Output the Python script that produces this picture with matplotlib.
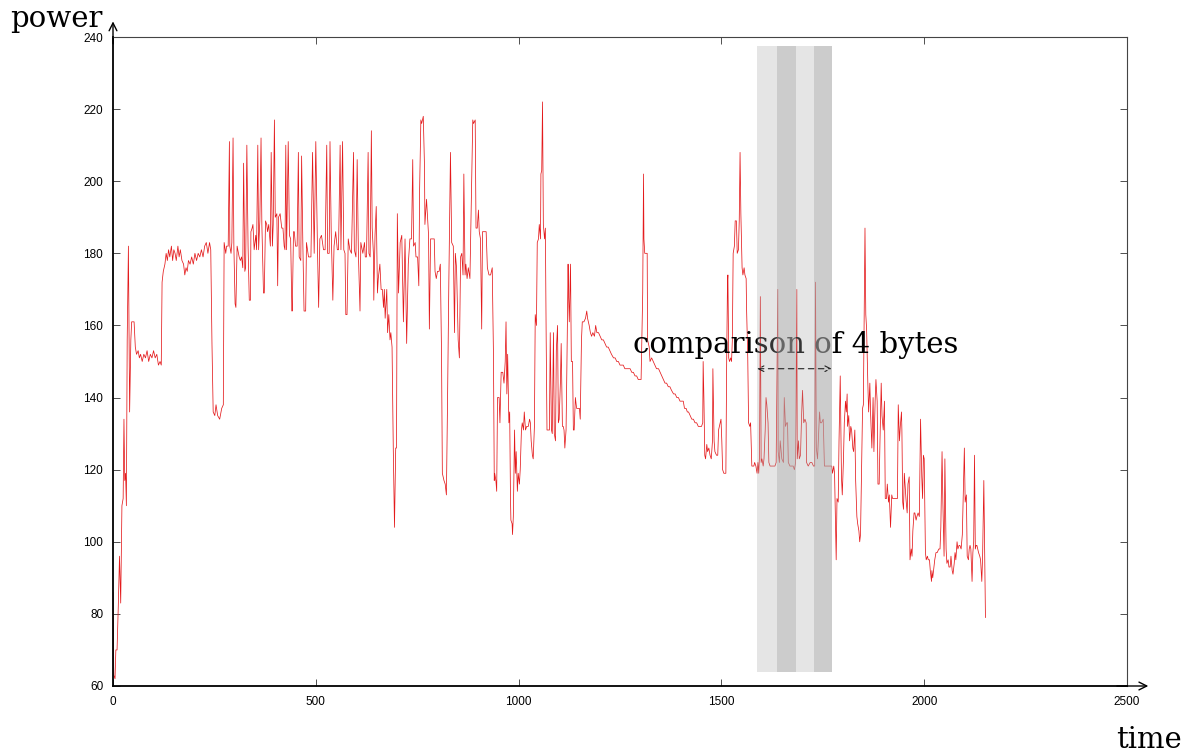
import matplotlib
matplotlib.use('Agg')
import matplotlib.pyplot as plt

# power trace (time, power)
time = [0, 2, 5, 7, 10, 13, 16, 19, 22, 25,
        27, 29, 31, 33, 35, 38, 41, 44, 46, 52,
        55, 58, 62, 65, 68, 72, 76, 80, 84, 88,
        92, 96, 100, 104, 108, 112, 116, 119, 121, 124,
        128, 131, 134, 137, 140, 144, 147, 150, 153, 156,
        160, 163, 166, 170, 174, 177, 180, 183, 186, 190,
        194, 198, 202, 206, 210, 214, 218, 222, 226, 230,
        234, 238, 241,
        244, 247, 251, 254, 258, 263, 268, 272, 274, 278,
        280, 284, 287, 288, 291, 293, 296, 298, 301, 303,
        306, 311, 314, 317, 320, 322, 325, 327, 330, 333,
        336, 339, 340, 343, 345, 348, 352, 354, 357, 359,
        362, 365, 367, 371, 373, 376, 379, 381, 384, 388,
        390, 393, 395, 398, 400, 404, 406, 408, 412, 416,
        419, 422, 424, 426, 428, 432, 435, 438, 441, 442,
        445, 447, 450, 454, 457, 459, 463, 465, 468, 471,
        475, 477, 482, 488, 492, 496, 500, 504, 507, 510,
        514, 519, 523, 527, 529, 533, 535, 538, 542, 545,
        549, 553, 556, 560, 562, 566, 569, 572, 574, 577,
        580, 584, 588, 593, 595, 599, 602, 605, 609, 611,
        616, 620, 622, 625, 629, 631, 634, 637, 639, 642,
        643, 646, 649, 652, 654, 658, 661, 664, 667, 669,
        671, 675, 677, 680, 683, 685, 688, 691, 694, 697,
        699, 701, 704,
        708, 712, 716, 720, 724, 728, 732, 736, 739, 741,
        745, 747, 751, 754, 756, 759, 761, 765, 768, 769,
        773, 778, 780, 783, 787, 792, 794, 797, 800, 804,
        807, 810, 812, 816, 819, 822, 825, 828, 832, 835,
        839, 842, 844, 847, 851, 854, 857, 860, 863, 865,
        868, 870, 873, 876, 880, 884, 887, 889, 893, 895,
        898, 901, 903, 906, 909, 911, 916, 920, 923, 927,
        931, 935, 938, 940,
        941, 944, 946, 948, 952, 954, 957, 961, 964, 967,
        969, 971, 973, 976, 978, 980, 981, 984, 985, 987,
        990, 992, 994, 997, 999, 1002, 1004, 1007, 1009, 1012,
        1014, 1017, 1020, 1024, 1027, 1029, 1031, 1034, 1036, 1039,
        1041, 1044, 1046, 1049, 1051, 1054, 1055, 1057, 1059, 1061,
        1064, 1066, 1068, 1070, 1073, 1076, 1078, 1081, 1083, 1086,
        1088, 1091, 1093, 1096, 1098, 1100, 1103, 1105, 1108, 1110,
        1112, 1114, 1117, 1119, 1122, 1123, 1125, 1128, 1130, 1133,
        1135, 1137, 1140, 1143, 1147, 1150, 1152, 1155, 1157, 1161,
        1165, 1168, 1170, 1174,
        1177, 1180, 1183, 1187, 1190, 1193, 1197, 1201, 1205, 1209,
        1213, 1217, 1221, 1225, 1229, 1234, 1238, 1242, 1246, 1250,
        1254, 1258, 1262, 1266, 1271, 1275, 1279, 1283, 1287, 1291,
        1295, 1299, 1302, 1303, 1306, 1308, 1309, 1311, 1313, 1317,
        1318, 1322, 1324, 1328, 1332, 1336, 1340, 1345, 1349, 1353,
        1357, 1361, 1365, 1369, 1373, 1377, 1382, 1386, 1390, 1394,
        1398,
        1402, 1406, 1409, 1413, 1416, 1419, 1423, 1427, 1431, 1435,
        1439, 1443, 1447, 1451, 1454, 1455, 1457, 1459, 1461, 1464,
        1466, 1469, 1472, 1475, 1478, 1479, 1482, 1484, 1488, 1491,
        1493, 1497, 1499, 1501, 1503, 1506, 1510, 1511, 1513, 1515,
        1516, 1518, 1520, 1523, 1525, 1527, 1529, 1532, 1534, 1537,
        1539, 1542, 1544, 1546, 1548, 1551, 1553, 1556, 1558, 1561,
        1562, 1565, 1567, 1570, 1572, 1575, 1577, 1580, 1582, 1585,
        1588, 1590, 1592, 1594, 1596, 1598, 1600, 1603, 1605, 1608,
        1610, 1612, 1615, 1617, 1620, 1624, 1628, 1632,
        1635, 1639, 1640, 1643, 1645, 1649, 1653, 1655, 1658, 1661,
        1663, 1665, 1669, 1673, 1677, 1680, 1683, 1686, 1687, 1690,
        1692, 1695, 1698, 1700, 1703, 1706, 1709, 1710, 1714, 1719,
        1723, 1727, 1730, 1732, 1734, 1737, 1739, 1742, 1744, 1747,
        1751, 1754, 1760, 1764, 1768, 1772, 1774, 1777, 1779, 1781,
        1783, 1785, 1788, 1790, 1793, 1796, 1798, 1801, 1803, 1806,
        1808, 1810, 1811, 1814, 1816, 1819, 1821, 1824, 1826, 1829,
        1831, 1834, 1836, 1839, 1841, 1843, 1846, 1848, 1850, 1852,
        1854, 1856, 1858, 1861, 1863, 1866, 1868,
        1871, 1874, 1876, 1879, 1881, 1884, 1886, 1889, 1891, 1894,
        1896, 1899, 1902, 1904, 1907, 1909, 1912, 1914, 1917, 1920,
        1922, 1926, 1928, 1931, 1934, 1936, 1939, 1941, 1944, 1945,
        1947, 1949, 1951, 1954, 1955, 1958, 1960, 1963, 1965, 1968,
        1970, 1972, 1975, 1977, 1980, 1982, 1985, 1988, 1991, 1994,
        1996, 1998, 2000, 2003, 2005, 2008, 2010, 2013, 2015, 2018,
        2019, 2021, 2023, 2026, 2029, 2032, 2036, 2039, 2041, 2044,
        2046, 2049, 2051, 2054, 2056, 2059, 2061, 2064, 2066, 2069,
        2071, 2074, 2076, 2078, 2081, 2083, 2086, 2088, 2091, 2094,
        2097, 2099, 2101, 2104, 2106, 2109, 2111, 2113, 2115, 2118,
        2120, 2122, 2124, 2126, 2128, 2130, 2134, 2137, 2139, 2142,
        2144, 2147, 2148, 2151]

power = [86, 63, 62, 70, 70, 82, 96, 83, 110, 112,
         134, 117, 119, 110, 156, 182, 136, 156, 161, 161,
         154, 152, 153, 151, 152, 150, 152, 151, 153, 150,
         152, 151, 153, 151, 152, 149, 150, 149, 172, 175,
         177, 180, 178, 181, 179, 182, 178, 181, 180, 178,
         182, 179, 181, 178, 177, 174, 176, 175, 178, 177,
         179, 177, 180, 178, 180, 179, 181, 179, 182, 183,
         180, 183, 181,
         155, 136, 135, 138, 135, 134, 137, 138, 183, 180,
         182, 182, 211, 182, 180, 183, 212, 182, 166, 165,
         182, 179, 178, 179, 176, 205, 175, 176, 210, 182,
         167, 167, 186, 187, 188, 181, 185, 181, 210, 181,
         189, 212, 188, 169, 169, 189, 188, 186, 188, 182,
         208, 182, 188, 217, 190, 191, 171, 190, 191, 187,
         187, 182, 181, 210, 181, 211, 185, 184, 164, 164,
         186, 186, 182, 182, 208, 179, 178, 207, 183, 164,
         164, 183, 179, 179, 208, 180, 211, 182, 165, 184,
         185, 181, 181, 210, 180, 180, 211, 186, 167, 182,
         186, 181, 181, 210, 181, 211, 181, 180, 163, 163,
         184, 181, 180, 208, 181, 179, 206, 180, 164, 183,
         180, 183, 179, 179, 208, 180, 179, 214, 187, 180,
         167, 185, 193, 169, 173, 177, 170, 170, 165, 170,
         162, 170, 158, 163, 156, 158, 154, 126, 104, 126,
         126, 191, 169,
         183, 185, 161, 184, 155, 177, 184, 184, 206, 182,
         183, 179, 179, 171, 198, 217, 216, 218, 204, 188,
         195, 185, 159, 184, 184, 184, 175, 173, 175, 175,
         177, 152, 119, 117, 116, 113, 141, 172, 208, 183,
         182, 158, 180, 176, 156, 151, 179, 180, 174, 202,
         174, 177, 173, 176, 173, 198, 217, 216, 217, 187,
         187, 192, 186, 184, 159, 186, 186, 186, 176, 174,
         174, 176, 152, 117,
         119, 117, 114, 140, 140, 133, 147, 147, 144, 150,
         161, 141, 152, 133, 136, 112, 106, 105, 102, 107,
         131, 119, 125, 114, 119, 116, 120, 131, 133, 131,
         136, 131, 132, 132, 134, 133, 128, 124, 123, 132,
         163, 160, 183, 184, 188, 184, 202, 203, 222, 188,
         184, 187, 156, 131, 131, 131, 158, 131, 130, 158,
         130, 128, 153, 160, 133, 134, 144, 155, 132, 132,
         131, 126, 131, 148, 177, 169, 161, 177, 150, 150,
         131, 131, 140, 137, 137, 137, 134, 156, 161, 161,
         162, 164, 162, 160,
         158, 157, 158, 157, 160, 158, 158, 157, 156, 156,
         155, 154, 154, 153, 152, 151, 151, 150, 150, 149,
         149, 149, 148, 148, 148, 148, 147, 147, 146, 146,
         145, 145, 145, 151, 169, 202, 184, 180, 180, 180,
         156, 154, 150, 151, 150, 149, 148, 148, 147, 146,
         145, 144, 144, 143, 143, 142, 141, 141, 140, 140,
         139,
         139, 139, 137, 137, 136, 136, 135, 134, 134, 133,
         133, 132, 132, 132, 133, 150, 139, 124, 123, 127,
         125, 126, 124, 123, 128, 148, 128, 125, 124, 124,
         131, 133, 134, 128, 120, 119, 119, 119, 150, 172,
         174, 151, 150, 151, 150, 156, 180, 182, 189, 189,
         180, 181, 189, 208, 191, 176, 174, 176, 174, 173,
         165, 151, 133, 132, 133, 121, 121, 121, 122, 121,
         119, 122, 119, 124, 168, 122, 123, 121, 123, 131,
         140, 138, 133, 122, 121, 121, 121, 121,
         122, 170, 125, 122, 128, 123, 122, 140, 132, 133,
         133, 122, 121, 121, 121, 120, 122, 170, 123, 128,
         123, 124, 136, 142, 133, 134, 133, 122, 121, 122,
         122, 121, 121, 172, 126, 123, 128, 136, 133, 133,
         134, 121, 121, 121, 121, 121, 119, 121, 119, 107,
         95, 112, 111, 128, 146, 118, 113, 123, 133, 139,
         136, 141, 132, 135, 128, 132, 131, 126, 125, 131,
         117, 107, 105, 103, 100, 102, 122, 137, 138, 163,
         187, 163, 159, 144, 136, 144, 135,
         126, 140, 125, 139, 145, 139, 116, 116, 128, 144,
         135, 131, 139, 112, 112, 116, 111, 113, 104, 113,
         112, 112, 112, 112, 112, 138, 128, 132, 136, 131,
         111, 109, 119, 114, 112, 108, 116, 118, 95, 98,
         96, 103, 108, 108, 106, 107, 108, 107, 134, 118,
         112, 124, 123, 97, 95, 96, 95, 95, 92, 89,
         92, 90, 92, 95, 97, 97, 98, 98, 104, 125,
         111, 96, 123, 98, 94, 95, 93, 93, 96, 92,
         91, 94, 97, 95, 100, 98, 99, 99, 98, 102,
         117, 126, 111, 113, 96, 95, 98, 99, 98, 89,
         97, 100, 124, 98, 99, 99, 97, 96, 95, 89,
         96, 117, 108, 79]

# the four byte comparisons (shaded bands)
band_edges = [1588, 1636, 1683, 1729, 1772]
band_alpha = [0.3, 0.6, 0.3, 0.6]
band_low, band_high = 64, 237.5
arrow_y = 148
label = 'comparison of 4 bytes'
label_pos = (1281, 152.3)

x_ticks = [0, 500, 1000, 1500, 2000, 2500]
y_ticks = [60, 80, 100, 120, 140, 160, 180, 200, 220, 240]

assert len(time) == len(power)

fig = plt.figure(figsize=(11.92, 7.56), dpi=100)
ax = fig.add_axes([113 / 1192, 70 / 756, 1014 / 1192, 649 / 756])

ax.plot(time, power, color='#e41a1c', lw=0.55, zorder=2)
ax.text(label_pos[0], label_pos[1], label, family='DejaVu Serif', fontsize=21,
        va='baseline', ha='left', zorder=2)

yspan = y_ticks[-1] - y_ticks[0]
for i in range(len(band_edges) - 1):
    ax.axvspan(band_edges[i], band_edges[i + 1],
               ymin=(band_low - y_ticks[0]) / yspan, ymax=(band_high - y_ticks[0]) / yspan,
               color='#aaaaaa', alpha=band_alpha[i], lw=0, zorder=3)

ax.annotate('', xy=(band_edges[-1], arrow_y), xytext=(band_edges[0], arrow_y),
            arrowprops=dict(arrowstyle='<->', ls=(0, (5, 4)), lw=0.8, color='#222222',
                            shrinkA=0, shrinkB=0, mutation_scale=10), zorder=4)

ax.set_xlim(x_ticks[0], x_ticks[-1])
ax.set_ylim(y_ticks[0], y_ticks[-1])
ax.set_xticks(x_ticks)
ax.set_yticks(y_ticks)
ax.tick_params(direction='in', top=True, right=True, length=5, width=0.6,
               labelsize=8.5, pad=7, color='#333333')
for lab in ax.get_xticklabels() + ax.get_yticklabels():
    lab.set_family('Liberation Sans')

for s in ['top', 'right']:
    ax.spines[s].set_linewidth(0.8)
    ax.spines[s].set_color('#444444')
for s in ['left', 'bottom']:
    ax.spines[s].set_linewidth(1.3)
    ax.spines[s].set_color('black')

# axis arrows sticking out past the frame
ax.annotate('', xy=(1.021, 0), xytext=(0.99, 0), xycoords='axes fraction',
            arrowprops=dict(arrowstyle='->', lw=1.0, color='black', shrinkA=0, shrinkB=0,
                            mutation_scale=14), annotation_clip=False)
ax.annotate('', xy=(0, 1.024), xytext=(0, 0.99), xycoords='axes fraction',
            arrowprops=dict(arrowstyle='->', lw=1.0, color='black', shrinkA=0, shrinkB=0,
                            mutation_scale=14), annotation_clip=False)

fig.text(0.0084, 0.9643, 'power', family='DejaVu Serif', fontsize=21, va='baseline')
fig.text(0.936, 0.0106, 'time', family='DejaVu Serif', fontsize=21, va='baseline')

fig.savefig('out.png', dpi=100)
